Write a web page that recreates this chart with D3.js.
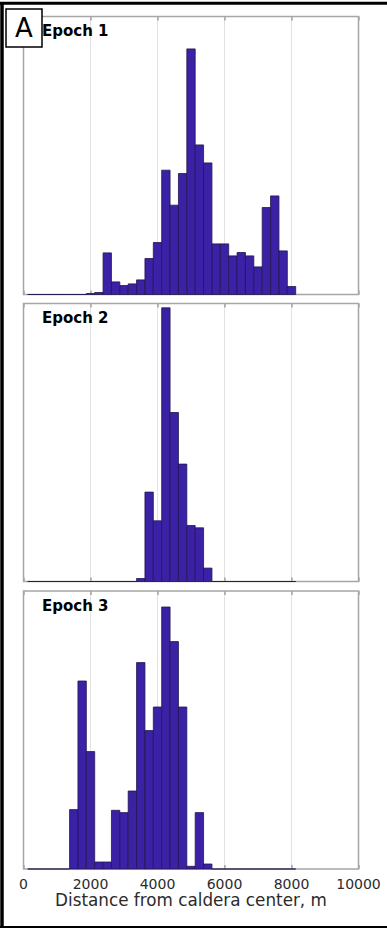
<!DOCTYPE html>
<html>
<head>
<meta charset="utf-8">
<script src="https://cdn.jsdelivr.net/npm/d3@7"></script>
<style>
  body { margin: 0; background: #fff; }
  svg { display: block; font-family: 'DejaVu Sans', sans-serif; }
  .grid line { stroke: #e2e2e2; stroke-width: 1; }
  .frame { fill: none; stroke: #a6a6a6; stroke-width: 1.5; }
  .bar { fill: #3b21a6; stroke: #22164e; stroke-width: 0.8; }
  .tick-label { fill: #2b2b2b; font-size: 14px; text-anchor: middle; }
  .axis-title { fill: #2b2b2b; font-size: 16.8px; text-anchor: middle; }
  .epoch-label { fill: #000; font-size: 15px; font-weight: bold; }
</style>
</head>
<body>
<svg id="hist"></svg>
<script>
// bin centres (m), bin width 250 m
const binCenters = [250, 500, 750, 1000, 1250, 1500, 1750, 2000, 2250, 2500, 2750, 3000,
  3250, 3500, 3750, 4000, 4250, 4500, 4750, 5000, 5250, 5500, 5750, 6000,
  6250, 6500, 6750, 7000, 7250, 7500, 7750, 8000];
const binWidth = 250;

// relative counts
const epoch1 = [0, 0, 0, 0, 0, 0, 0, 1, 2, 41.6, 12.6, 9,
  10.6, 14.6, 36, 52, 124.3, 89.3, 121, 245.6, 149.6, 131.6, 50.6, 50.6,
  38.6, 42, 38.6, 27.6, 87, 98.6, 43.6, 8];
const epoch2 = [0, 0, 0, 0, 0, 0, 0, 0, 0, 0, 0, 0,
  0, 3, 89.4, 60.7, 273.7, 169, 117.4, 56, 53.7, 13.4, 0, 0,
  0, 0, 0, 0, 0, 0, 0, 0];
const epoch3 = [0, 0, 0, 0, 0, 59.4, 188, 117.4, 7, 7, 58.7, 56.4,
  78, 206.4, 138.4, 162, 262, 227.4, 162, 2.7, 56.4, 5, 0, 0,
  0, 0, 0, 0, 0, 0, 0, 0];

const epochNames = ['Epoch 1', 'Epoch 2', 'Epoch 3'];
const xTicks = [0, 2000, 4000, 6000, 8000, 10000];
const xTitle = 'Distance from caldera center, m';
const panelLetter = 'A';

const fullWidth = 387;
const fullHeight = 929;
const left = 23.5;
const plotW = 335;
const plotH = 278;
const panelTops = [16.5, 303.5, 591];

const svg = d3.select('#hist')
    .attr('width', fullWidth)
    .attr('height', fullHeight);

const x = d3.scaleLinear()
    .domain([0, 10000])
    .range([left, left + plotW]);

const series = [epoch1, epoch2, epoch3];

series.forEach((counts, i) => {
  const top = panelTops[i];
  const y = d3.scaleLinear()
      .domain([0, plotH])
      .range([top + plotH, top]);

  const g = svg.append('g');

  // vertical grid
  g.append('g')
      .attr('class', 'grid')
    .selectAll('line')
      .data(xTicks.slice(1, -1))
    .enter().append('line')
      .attr('x1', d => x(d))
      .attr('x2', d => x(d))
      .attr('y1', top)
      .attr('y2', top + plotH);

  // inward ticks, top and bottom
  g.append('g')
      .attr('transform', `translate(0, ${top + plotH})`)
      .call(d3.axisTop(x).tickValues(xTicks).tickSize(4).tickFormat(''))
      .call(a => a.select('.domain').remove())
      .call(a => a.selectAll('line').attr('stroke', '#7a7a7a'));
  g.append('g')
      .attr('transform', `translate(0, ${top})`)
      .call(d3.axisBottom(x).tickValues(xTicks).tickSize(4).tickFormat(''))
      .call(a => a.select('.domain').remove())
      .call(a => a.selectAll('line').attr('stroke', '#7a7a7a'));

  g.append('rect')
      .attr('class', 'frame')
      .attr('x', left)
      .attr('y', top)
      .attr('width', plotW)
      .attr('height', plotH);

  // bars (zero bins show as a line along the base)
  g.selectAll('.bar')
      .data(binCenters.map((c, k) => ({ c, v: counts[k] })))
    .enter().append('path')
      .attr('class', 'bar')
      .attr('d', d => {
        const x0 = x(d.c - binWidth / 2);
        const x1 = x(d.c + binWidth / 2);
        const b = y(0);
        return `M${x0},${b}V${y(d.v)}H${x1}V${b}Z`;
      });

  g.append('text')
      .attr('class', 'epoch-label')
      .attr('x', 42)
      .attr('y', top + 19.5)
      .text(epochNames[i]);
});

// x tick labels under the last panel
const lastBottom = panelTops[2] + plotH;
svg.append('g')
  .selectAll('text')
    .data(xTicks)
  .enter().append('text')
    .attr('class', 'tick-label')
    .attr('x', d => x(d))
    .attr('y', lastBottom + 19.5)
    .text(d => d);

svg.append('text')
    .attr('class', 'axis-title')
    .attr('x', left + plotW / 2)
    .attr('y', lastBottom + 37)
    .text(xTitle);

// panel letter box
svg.append('rect')
    .attr('x', 6)
    .attr('y', 9)
    .attr('width', 36)
    .attr('height', 38)
    .attr('fill', '#fff')
    .attr('stroke', '#000')
    .attr('stroke-width', 1.5);
svg.append('text')
    .attr('x', 24)
    .attr('y', 37)
    .attr('text-anchor', 'middle')
    .style('font-size', '26px')
    .text(panelLetter);

// outer figure frame
svg.append('line')
    .attr('x1', 2).attr('x2', 2)
    .attr('y1', 2).attr('y2', 928)
    .attr('stroke', '#000').attr('stroke-width', 3.5);
svg.append('line')
    .attr('x1', 0).attr('x2', fullWidth)
    .attr('y1', 3.2).attr('y2', 3.2)
    .attr('stroke', '#000').attr('stroke-width', 3);
svg.append('line')
    .attr('x1', 0).attr('x2', fullWidth)
    .attr('y1', 927).attr('y2', 927)
    .attr('stroke', '#000').attr('stroke-width', 2);
</script>
</body>
</html>
